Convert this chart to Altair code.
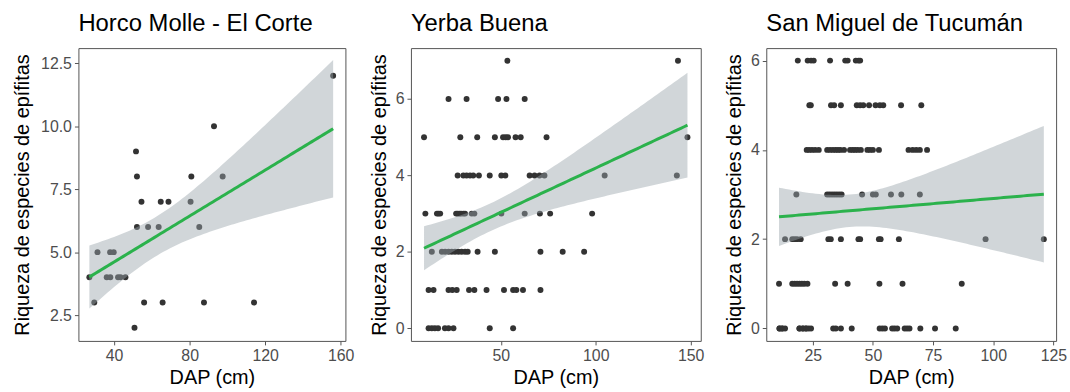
import altair as alt
import numpy as np
import pandas as pd

FONT = "Liberation Sans"
Y_TITLE = "Riqueza de especies de epífitas"
X_TITLE = "DAP (cm)"

# ---------------- Horco Molle - El Corte ----------------
hm_dap = [26.9, 29.5, 31.2, 36.1, 38.0, 37.9, 39.8, 42.1, 43.4, 46.0,
          50.8, 51.6, 52.1, 52.1, 54.5, 55.9, 58.0, 63.6, 64.7, 65.7,
          68.8, 80.5, 80.9, 85.1, 87.6, 92.9, 97.5, 114.1, 156.0]
hm_riq = [4, 3, 5, 4, 4, 5, 5, 4, 4, 4,
          2, 9, 8, 6, 7, 3, 6, 6, 7, 3,
          7, 7, 8, 6, 3, 10, 8, 3, 12]

# ---------------- Yerba Buena (DAP by richness) ----------------
yb_r0 = [12.0, 13.7, 15.3, 17.0, 20.6, 22.5, 25.1, 44.2, 56.5]
yb_r1 = [12.0, 14.6, 22.5, 24.5, 26.8, 33.3, 36.1, 42.5, 51.7, 56.5, 58.2, 61.7, 70.9]
yb_r2 = [13.7, 19.0, 20.7, 22.5, 24.2, 25.9, 27.7, 29.4, 31.2, 32.6, 37.8, 46.9, 70.9, 82.6, 93.9]
yb_r3 = [10.3, 16.4, 17.2, 18.1, 26.5, 27.3, 28.2, 29.1, 30.3, 31.2, 34.7, 36.1, 50.3, 62.6, 70.6, 76.0, 98.1]
yb_r4 = [27.3, 30.3, 32.0, 33.8, 35.5, 38.5, 44.2, 50.3, 52.4, 65.2, 67.8, 70.4, 73.0, 104.7, 142.7]
yb_r5 = [9.6, 28.7, 37.6, 46.9, 51.2, 52.6, 53.8, 57.8, 60.5, 74.1, 148.3]
yb_r6 = [22.5, 32.0, 48.6, 53.0, 62.6]
yb_r7 = [53.5, 143.3]

# ---------------- San Miguel de Tucumán (DAP by richness) ----------------
# (overlapping trees at the same DAP are listed twice)
sm_r0 = [11.2, 11.2, 12.3, 12.3, 13.5, 19.5, 19.5, 20.9, 20.9, 22.2, 22.2, 23.3, 24.3,
         33.5, 34.6, 36.7, 41.2, 52.8, 53.9, 55.0, 58.0, 59.0, 60.1, 63.2, 64.2, 65.2,
         69.7, 75.8, 84.4]
sm_r1 = [11.0, 16.5, 17.5, 18.5, 19.5, 20.5, 21.5, 22.8, 34.3, 39.5, 52.7, 62.3, 86.9]
sm_r2 = [13.5, 16.5, 17.5, 18.5, 20.0, 31.5, 32.5, 36.7, 44.0, 44.7, 52.5, 53.2, 60.8, 96.8, 121.0]
sm_r3 = [18.2, 31.0, 32.0, 33.0, 34.0, 35.0, 36.0, 37.0, 45.5, 50.0, 51.2, 57.5, 61.8, 69.5]
sm_r4 = [22.5, 23.5, 24.7, 26.0, 27.5, 31.0, 32.2, 33.4, 34.5, 35.5, 36.5, 38.0, 40.5,
         41.6, 42.6, 43.7, 45.0, 47.7, 48.8, 50.0, 52.5, 64.8, 66.5, 68.0, 69.5, 72.5]
sm_r5 = [23.6, 24.2, 32.6, 33.9, 36.7, 43.3, 44.7, 46.0, 48.4, 51.1, 52.9, 54.3, 61.7, 70.1]
sm_r6 = [18.8, 22.9, 24.3, 25.4, 32.2, 38.5, 39.5, 42.9, 44.0, 44.7]


def rows_to_frame(rows):
    xs, ys = [], []
    for r, vals in enumerate(rows):
        xs += vals
        ys += [r] * len(vals)
    return pd.DataFrame({"x": xs, "y": ys})


def tq(df):
    z = 1.959964
    return (z + (z**3 + z) / (4 * df) + (5 * z**5 + 16 * z**3 + 3 * z) / (96 * df**2)
            + (3 * z**7 + 19 * z**5 + 17 * z**3 - 15 * z) / (384 * df**3))


def fit(df):
    x = df["x"].to_numpy(float)
    y = df["y"].to_numpy(float)
    n = len(x)
    b1, b0 = np.polyfit(x, y, 1)
    res = y - (b0 + b1 * x)
    s = np.sqrt((res**2).sum() / (n - 2))
    xm = x.mean()
    sxx = ((x - xm) ** 2).sum()
    grid = np.linspace(x.min(), x.max(), 80)
    yh = b0 + b1 * grid
    se = s * np.sqrt(1 / n + (grid - xm) ** 2 / sxx)
    t = tq(n - 2)
    return pd.DataFrame({"x": grid, "fit": yh, "lo": yh - t * se, "hi": yh + t * se})


hm_df = pd.DataFrame({"x": hm_dap, "y": hm_riq})
yb_df = rows_to_frame([yb_r0, yb_r1, yb_r2, yb_r3, yb_r4, yb_r5, yb_r6, yb_r7])
sm_df = rows_to_frame([sm_r0, sm_r1, sm_r2, sm_r3, sm_r4, sm_r5, sm_r6])


def panel(df, title, w, xdom, xticks, ydom, yticks, yfmt, ytp):
    fd = fit(df)
    xs = alt.Scale(domain=xdom, nice=False, zero=False)
    ys = alt.Scale(domain=ydom, nice=False, zero=False)
    xax = alt.Axis(values=xticks, grid=False, domain=False, format="d")
    yax = alt.Axis(values=yticks, grid=False, domain=False, format=yfmt, titlePadding=ytp)
    pts = alt.Chart(df).mark_circle(size=36, color="#333333", opacity=1).encode(
        x=alt.X("x:Q", scale=xs, axis=xax, title=X_TITLE),
        y=alt.Y("y:Q", scale=ys, axis=yax, title=Y_TITLE),
    )
    band = alt.Chart(fd).mark_area(color="#9aa3aa", opacity=0.45).encode(
        x=alt.X("x:Q", scale=xs, axis=xax, title=X_TITLE),
        y=alt.Y("lo:Q", scale=ys, axis=yax, title=Y_TITLE),
        y2="hi:Q",
    )
    line = alt.Chart(fd).mark_line(color="#2bb24c", strokeWidth=3).encode(
        x=alt.X("x:Q", scale=xs, axis=xax, title=X_TITLE),
        y=alt.Y("fit:Q", scale=ys, axis=yax, title=Y_TITLE),
    )
    return alt.layer(pts, band, line).properties(
        width=w, height=295,
        title=alt.TitleParams(text=title, anchor="start", frame="group", fontSize=24,
                              font=FONT, fontWeight="normal", color="black", offset=12),
    )


p1 = panel(hm_df, "Horco Molle - El Corte", 269, [21.1, 162.5], [40, 80, 120, 160],
           [1.475, 13.1], [2.5, 5.0, 7.5, 10.0, 12.5], ".1f", 8)
p2 = panel(yb_df, "Yerba Buena", 292, [2.7, 155.3], [50, 100, 150],
           [-0.33, 7.33], [0, 2, 4, 6], "d", 6)
p3 = panel(sm_df, "San Miguel de Tucumán", 292, [5.7, 126.1], [25, 50, 75, 100, 125],
           [-0.28, 6.28], [0, 2, 4, 6], "d", 6)

chart = alt.hconcat(alt.hconcat(p1, p2, spacing=13), p3, spacing=19).properties(
    padding={"left": 12, "top": 10, "right": 2, "bottom": 2},
    background="white",
).configure_view(stroke="#555555", strokeWidth=1).configure_axis(
    labelFont=FONT, titleFont=FONT, labelFontSize=16, titleFontSize=20,
    labelColor="#4d4d4d", titleColor="black", titleFontWeight="normal",
    tickColor="#555555", tickSize=4, labelPadding=3,
)

chart.save("out.html", embed_options={"renderer": "svg", "actions": False})
